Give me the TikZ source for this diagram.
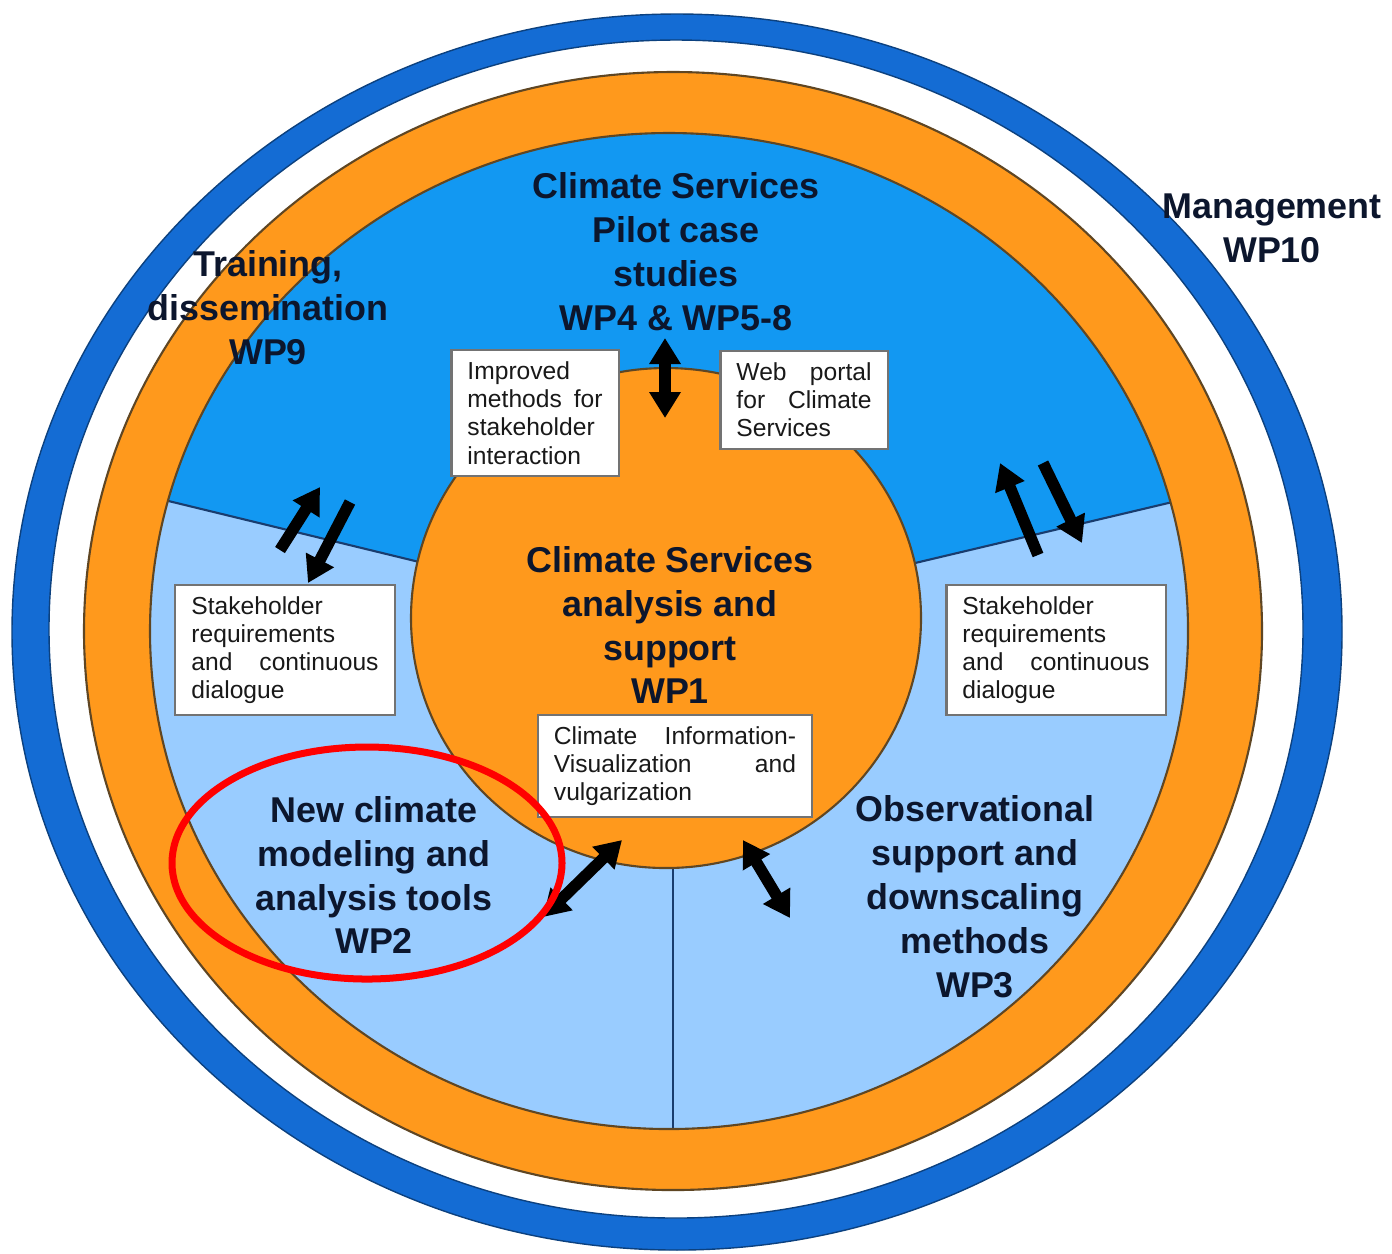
\documentclass[tikz,border=0pt]{standalone}
\usepackage        {fontspec   }
\usepackage        {tikz       }
\usetikzlibrary    {arrows.meta}
\setmainfont{Liberation Sans}

\definecolor{ringblue}  {RGB}{20,108,212}
\definecolor{ringorange}{RGB}{255,153,28}
\definecolor{skyblue}   {RGB}{18,152,242}
\definecolor{paleblue}  {RGB}{153,204,255}
\definecolor{edgebrown} {RGB}{95,70,35}
\definecolor{lineblue}  {RGB}{25,60,110}
\definecolor{titleink}  {RGB}{12,22,45}

\begin{document}
\begin{tikzpicture}
  [x=0.01cm,y=-0.01cm,
   title/.style={font=\bfseries\fontsize{10.2pt}{12.5pt}\selectfont,align=center,text=titleink},
   box/.style={draw=black!55,fill=white,line width=0.6pt,inner xsep=0.16cm,
               font=\fontsize{7pt}{8pt}\selectfont,align=left,text=black!90},
   divider/.style={lineblue,line width=0.6pt},
   oneway/.style={-{Triangle[length=2.6mm,width=3mm]},line width=1.15mm},
   twoway/.style={{Triangle[length=2.6mm,width=3mm]}-{Triangle[length=2.6mm,width=3mm]},line width=1.15mm}]

  \useasboundingbox (0,0) rectangle (1392,1253);
  \fill[white] (0,0) rectangle (1392,1253);

  \draw[fill=ringblue,draw=ringblue!60!black,line width=0.4pt] (677,632) ellipse (665 and 618);
  \draw[fill=white,draw=ringblue!60!black,line width=0.4pt] (676,629) ellipse (627 and 589);
  \draw[fill=ringorange,draw=edgebrown,line width=0.6pt] (673,631) ellipse (589 and 559);
  \fill[skyblue] (669,631) ellipse (519 and 498);

  \begin{scope}
    \clip (669,631) ellipse (519 and 498);
    \fill[paleblue] (0,460) -- (666,622) -- (1392,450) -- (1392,1253) -- (0,1253) -- cycle;
    \draw[divider] (0,460) -- (666,622) -- (1392,450);
    \draw[divider] (673,620) -- (673,1253);
  \end{scope}
  \draw[edgebrown,line width=0.6pt] (669,631) ellipse (519 and 498);

  \draw[fill=ringorange,draw=edgebrown,line width=0.6pt] (666,618) ellipse (255 and 250);

  \node[title] (pilot)    at (676,252)  {Climate Services\\Pilot case\\studies\\WP4 \& WP5-8};
  \node[title] (training) at (268,308)  {Training,\\dissemination\\WP9};
  \node[title] (mgmt)     at (1272,228) {Management\\WP10};
  \node[title] (support)  at (670,625)  {Climate Services\\analysis and\\support\\WP1};
  \node[title] (tools)    at (374,875)  {New climate\\modeling and\\analysis tools\\WP2};
  \node[title] (obs)      at (975,897)  {Observational\\support and\\downscaling\\methods\\WP3};

  \node[box,text width=1.35cm,minimum height=1.23cm] (improved) at (535,413) {Improved\\methods\hfill for\\stakeholder\\interaction};
  \node[box,text width=1.35cm,minimum height=0.96cm] (portal)   at (804,400) {Web\hfill portal\\for\hfill Climate\\Services};
  \node[box,text width=1.87cm,minimum height=1.30cm] (reqleft)  at (285,650) {Stakeholder\\requirements\\and\hfill continuous\\dialogue};
  \node[box,text width=1.87cm,minimum height=1.30cm] (reqright) at (1056,650) {Stakeholder\\requirements\\and\hfill continuous\\dialogue};
  \node[box,text width=2.42cm,minimum height=1.00cm] (visual)   at (675,766) {Climate\hfill Information-\\Visualization\hfill and\\vulgarization};

  \coordinate (topA) at (665,338);  \coordinate (topB) at (665,418);
  \coordinate (lupA) at (280,550);  \coordinate (lupB) at (320,487);
  \coordinate (ldnA) at (350,502);  \coordinate (ldnB) at (308,583);
  \coordinate (rupA) at (1038,555); \coordinate (rupB) at (1000,463);
  \coordinate (rdnA) at (1043,463); \coordinate (rdnB) at (1082,543);
  \coordinate (blA)  at (622,840);  \coordinate (blB)  at (543,917);
  \coordinate (brA)  at (743,840);  \coordinate (brB)  at (790,918);

  \draw[twoway] (topA) -- (topB);
  \draw[oneway] (lupA) -- (lupB);
  \draw[oneway] (ldnA) -- (ldnB);
  \draw[oneway] (rupA) -- (rupB);
  \draw[oneway] (rdnA) -- (rdnB);
  \draw[twoway] (blA) -- (blB);
  \draw[twoway] (brA) -- (brB);

  \draw[red,line width=0.07cm] (367,863) ellipse (195 and 116);

\end{tikzpicture}
\end{document}
